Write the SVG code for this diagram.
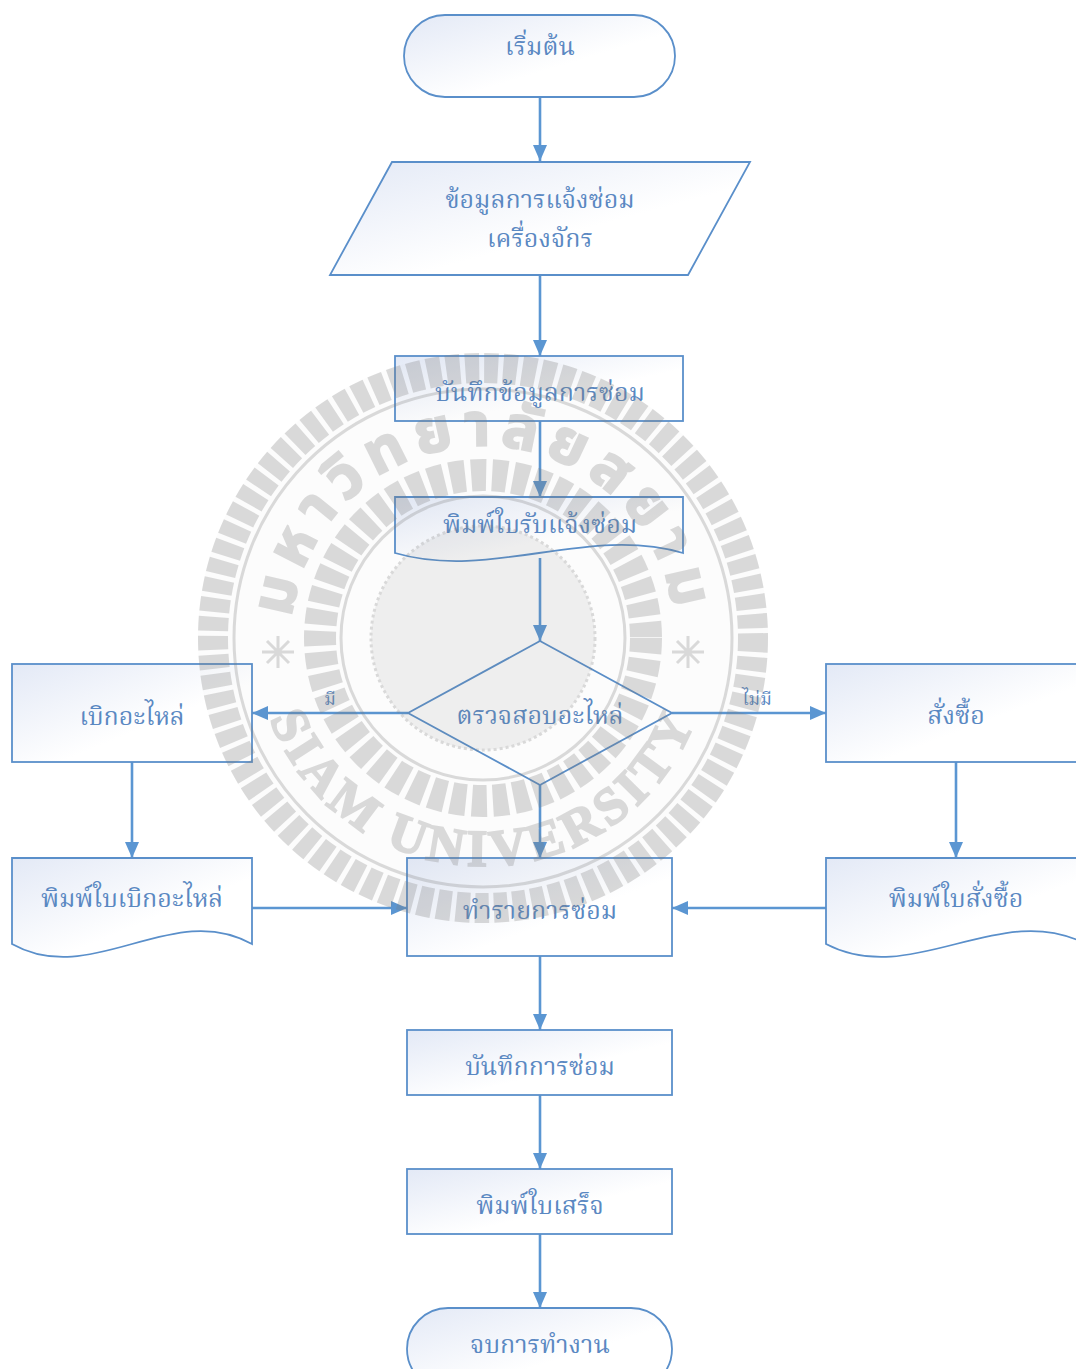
<svg xmlns="http://www.w3.org/2000/svg" xmlns:xlink="http://www.w3.org/1999/xlink" width="1076" height="1369" viewBox="0 0 1076 1369">
<defs>
  <linearGradient id="fillGrad" x1="0" y1="0" x2="1" y2="1">
    <stop offset="0" stop-color="#e3e9f6"/>
    <stop offset="0.6" stop-color="#ffffff"/>
    <stop offset="1" stop-color="#ffffff"/>
  </linearGradient>
  <marker id="arrow" viewBox="0 0 16 14" refX="16" refY="7" markerWidth="16" markerHeight="14" markerUnits="userSpaceOnUse" orient="auto">
    <path d="M0,0 L16,7 L0,14 Z" fill="#5b96d2"/>
  </marker>
  <path id="wmTop" d="M291.7,621.3 A192,192 0 0 1 674.3,621.3"/>
  <path id="wmBottom" d="M262.8,697 A228,228 0 0 0 703.2,697"/>
  <style>
    .shape { fill: url(#fillGrad); stroke: #5a8fca; stroke-width: 1.8; }
    .conn { fill: none; stroke: #5b96d2; stroke-width: 2.6; marker-end: url(#arrow); }
    .lbl { font-family: 'Noto Serif Thai', 'Noto Sans Thai', 'Liberation Serif', serif; font-size: 25px; fill: #5a88c2; text-anchor: middle; }
    .small { font-size: 18px; }
    .wm { fill: none; stroke: #7a7a7a; }
    .wmtext { font-weight: bold; fill: #7a7a7a; stroke: #7a7a7a; stroke-width: 2; }
  </style>
</defs>
<rect x="0" y="0" width="1076" height="1369" fill="#ffffff"/>

<g id="connectors">
  <line class="conn" x1="540" y1="97" x2="540" y2="161"/>
  <line class="conn" x1="540" y1="275" x2="540" y2="356"/>
  <line class="conn" x1="540" y1="421" x2="540" y2="497"/>
  <line class="conn" x1="540" y1="558" x2="540" y2="641"/>
  <line class="conn" x1="408" y1="713" x2="252" y2="713"/>
  <line class="conn" x1="672" y1="713" x2="826" y2="713"/>
  <line class="conn" x1="132" y1="762" x2="132" y2="858"/>
  <line class="conn" x1="956" y1="762" x2="956" y2="858"/>
  <line class="conn" x1="540" y1="785" x2="540" y2="858"/>
  <line class="conn" x1="252" y1="908" x2="407" y2="908"/>
  <line class="conn" x1="826" y1="908" x2="672" y2="908"/>
  <line class="conn" x1="540" y1="956" x2="540" y2="1030"/>
  <line class="conn" x1="540" y1="1095" x2="540" y2="1169"/>
  <line class="conn" x1="540" y1="1234" x2="540" y2="1308"/>
  <text class="lbl small" x="330" y="705">มี</text>
  <text class="lbl small" x="757" y="705">ไม่มี</text>
</g>

<g id="start">
  <rect class="shape" x="404" y="15" width="271" height="82" rx="41" ry="41"/>
  <text class="lbl" x="540" y="55">เริ่มต้น</text>
</g>

<g id="input-data">
  <polygon class="shape" points="392,162 750,162 688,275 330,275"/>
  <text class="lbl" x="540" y="208">ข้อมูลการแจ้งซ่อม</text>
  <text class="lbl" x="540" y="247">เครื่องจักร</text>
</g>

<g id="record-data">
  <rect class="shape" x="395" y="356" width="288" height="65"/>
  <text class="lbl" x="540" y="401">บันทึกข้อมูลการซ่อม</text>
</g>

<g id="print-receipt-form">
  <path class="shape" d="M395,497 H683 V553 C587,525 491,581 395,553 Z"/>
  <text class="lbl" x="540" y="533">พิมพ์ใบรับแจ้งซ่อม</text>
</g>

<g id="check-parts">
  <polygon class="shape" style="fill:none" points="540,641 672,713 540,785 408,713"/>
  <text class="lbl" x="540" y="724">ตรวจสอบอะไหล่</text>
</g>

<g id="withdraw-parts">
  <rect class="shape" x="12" y="664" width="240" height="98"/>
  <text class="lbl" x="132" y="725">เบิกอะไหล่</text>
</g>

<g id="order">
  <rect class="shape" x="826" y="664" width="260" height="98"/>
  <text class="lbl" x="956" y="724">สั่งซื้อ</text>
</g>

<g id="print-withdraw-form">
  <path class="shape" d="M12,858 H252 V944 C172,899 92,989 12,944 Z"/>
  <text class="lbl" x="132" y="907">พิมพ์ใบเบิกอะไหล่</text>
</g>

<g id="print-order-form">
  <path class="shape" d="M826,858 H1086 V944 C1000,899 912,989 826,944 Z"/>
  <text class="lbl" x="956" y="907">พิมพ์ใบสั่งซื้อ</text>
</g>

<g id="do-repair">
  <rect class="shape" x="407" y="858" width="265" height="98"/>
  <text class="lbl" x="540" y="919">ทำรายการซ่อม</text>
</g>

<g id="record-repair">
  <rect class="shape" x="407" y="1030" width="265" height="65"/>
  <text class="lbl" x="540" y="1075">บันทึกการซ่อม</text>
</g>

<g id="print-bill">
  <rect class="shape" x="407" y="1169" width="265" height="65"/>
  <text class="lbl" x="540" y="1214">พิมพ์ใบเสร็จ</text>
</g>

<g id="end">
  <rect class="shape" x="407" y="1308" width="265" height="82" rx="41" ry="41"/>
  <text class="lbl" x="540" y="1353">จบการทำงาน</text>
</g>

<g id="watermark" opacity="0.28">
  <circle cx="483" cy="638" r="285" fill="#7a7a7a" fill-opacity="0.08"/>
  <circle class="wm" cx="483" cy="638" r="270" stroke-width="30" stroke-dasharray="14 5"/>
  <circle class="wm" cx="483" cy="638" r="249" stroke-width="3"/>
  <circle class="wm" cx="483" cy="638" r="163" stroke-width="32" stroke-dasharray="15 6"/>
  <circle class="wm" cx="483" cy="638" r="142" stroke-width="3"/>
  <circle cx="483" cy="638" r="112" fill="#7a7a7a" fill-opacity="0.4" stroke="#7a7a7a" stroke-width="3" stroke-dasharray="3 3"/>
  <g stroke="#7a7a7a" stroke-width="3">
    <path d="M262,652 H294 M278,636 V668 M267,641 L289,663 M289,641 L267,663"/>
    <path d="M672,652 H704 M688,636 V668 M677,641 L699,663 M699,641 L677,663"/>
  </g>
  <text class="wmtext" font-family="'Noto Sans Thai', 'Noto Serif Thai', sans-serif" font-size="60" letter-spacing="9"><textPath xlink:href="#wmTop" href="#wmTop" startOffset="50%" text-anchor="middle">มหาวิทยาลัยสยาม</textPath></text>
  <text class="wmtext" font-family="'Liberation Serif', serif" font-size="52" letter-spacing="5"><textPath xlink:href="#wmBottom" href="#wmBottom" startOffset="50%" text-anchor="middle">SIAM UNIVERSITY</textPath></text>
</g>
</svg>
